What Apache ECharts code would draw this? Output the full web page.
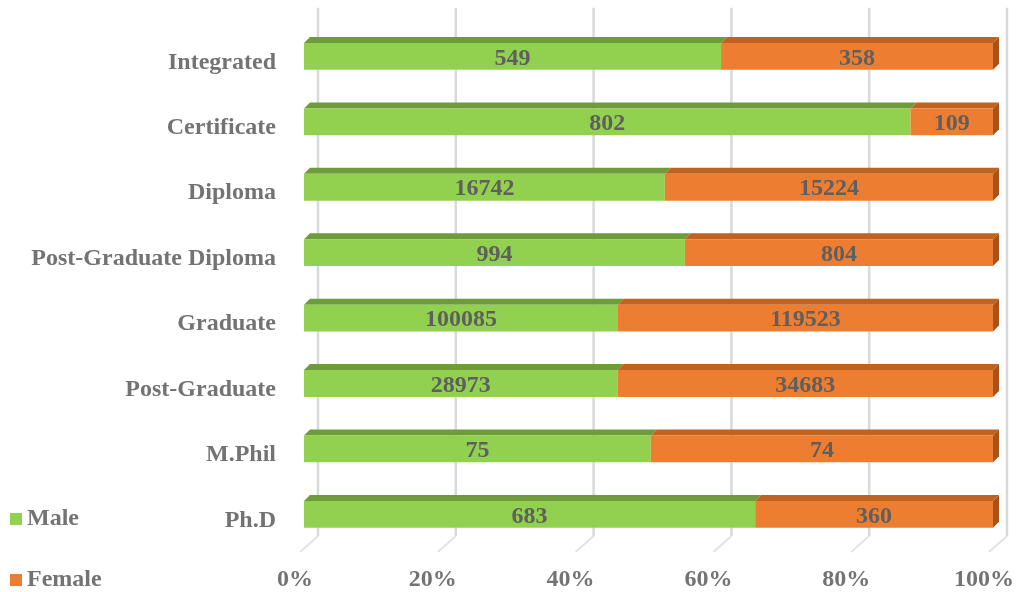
<!DOCTYPE html>
<html>
<head>
<meta charset="utf-8">
<script src="https://cdn.jsdelivr.net/npm/echarts@6/dist/echarts.min.js"></script>
<style>html,body{margin:0;padding:0;background:#fff;}#c{width:1020px;height:592px;}</style>
</head>
<body>
<div id="c"></div>
<script>
const categories = ['Ph.D','M.Phil','Post-Graduate','Graduate','Post-Graduate Diploma','Diploma','Certificate','Integrated'];
const male = [683, 75, 28973, 100085, 994, 16742, 802, 549];
const female = [360, 74, 34683, 119523, 804, 15224, 109, 358];
const ticks = [0, 20, 40, 60, 80, 100];

const FONT = '"Liberation Serif", "Times New Roman", serif';
const D = 6; // 3D depth

const maleData = categories.map((c, i) => {
  const t = male[i] + female[i];
  return [i, 0, male[i] / t * 100, male[i]];
});
const femaleData = categories.map((c, i) => {
  const t = male[i] + female[i];
  return [i, male[i] / t * 100, 100, female[i]];
});

function barRenderer(front, top, side, withSide) {
  return function (params, api) {
    const cat = api.value(0);
    const p0 = api.coord([api.value(1), cat]);
    const p1 = api.coord([api.value(2), cat]);
    const h = api.size([0, 1])[1] * 0.41;
    const x0 = p0[0], x1 = p1[0];
    const yT = p0[1] - h / 2 + 1, yB = p0[1] + h / 2 + 1;
    const children = [
      { type: 'polygon', shape: { points: [[x0, yT], [x0 + D, yT - D], [x1 + D, yT - D], [x1, yT]] }, style: { fill: top } },
      { type: 'rect', shape: { x: x0, y: yT, width: x1 - x0, height: h }, style: { fill: front } }
    ];
    if (withSide) {
      children.push({ type: 'polygon', shape: { points: [[x1, yT], [x1 + D, yT - D], [x1 + D, yB - D], [x1, yB]] }, style: { fill: side } });
    }
    children.push({
      type: 'text',
      style: {
        text: String(api.value(3)), x: (x0 + x1) / 2, y: p0[1] + 3,
        align: 'center', verticalAlign: 'middle',
        font: 'bold 24px ' + FONT, fill: '#5f5f5f'
      }
    });
    return { type: 'group', children: children };
  };
}

const legendText = { fontFamily: FONT, fontWeight: 'bold', fontSize: 24, lineHeight: 24, color: '#737373' };

const chart = echarts.init(document.getElementById('c'), null, { renderer: 'canvas' });
chart.setOption({
  backgroundColor: '#ffffff',
  animation: false,
  grid: { left: 304, right: 27, top: 22.75, bottom: 45.25 },
  legend: [
    { data: ['Male'], left: 10, top: 507, padding: 0, icon: 'rect', itemWidth: 12, itemHeight: 12, textStyle: legendText },
    { data: ['Female'], left: 10, top: 568, padding: 0, icon: 'rect', itemWidth: 12, itemHeight: 12, textStyle: legendText }
  ],
  xAxis: {
    type: 'value', min: 0, max: 100, interval: 20,
    axisLine: { show: false }, axisTick: { show: false }, splitLine: { show: false },
    axisLabel: {
      formatter: '{value}%', margin: 22, padding: [0, 18, 0, 0],
      fontFamily: FONT, fontWeight: 'bold', fontSize: 24, color: '#737373'
    }
  },
  yAxis: {
    type: 'category', data: categories,
    axisLine: { show: false }, axisTick: { show: false },
    axisLabel: {
      margin: 28, verticalAlign: 'top', lineHeight: 14,
      fontFamily: FONT, fontWeight: 'bold', fontSize: 24, color: '#737373'
    }
  },
  series: [
    {
      name: 'grid', type: 'custom', silent: true, z: 1,
      data: ticks.map(v => [v]),
      encode: { x: 0 },
      renderItem: function (params, api) {
        const cs = params.coordSys;
        const x = api.coord([api.value(0), 0])[0];
        const bx = x + 14;
        return {
          type: 'group', children: [
            { type: 'line', shape: { x1: bx, y1: cs.y - 15, x2: bx, y2: cs.y + cs.height - 10 }, style: { stroke: '#d9d9d9', lineWidth: 2.5 } },
            { type: 'line', shape: { x1: bx, y1: cs.y + cs.height - 10, x2: x - 4, y2: cs.y + cs.height + 6 }, style: { stroke: '#e3e3e3', lineWidth: 2 } }
          ]
        };
      }
    },
    {
      name: 'Male', type: 'custom', z: 2,
      itemStyle: { color: '#92D050' },
      data: maleData, encode: { x: [1, 2], y: 0 },
      renderItem: barRenderer('#92D050', '#6f9c3a', '#6f9c3a', false)
    },
    {
      name: 'Female', type: 'custom', z: 2,
      itemStyle: { color: '#ED7D31' },
      data: femaleData, encode: { x: [1, 2], y: 0 },
      renderItem: barRenderer('#ED7D31', '#c2621f', '#a9531a', true)
    }
  ]
});
</script>
</body>
</html>
